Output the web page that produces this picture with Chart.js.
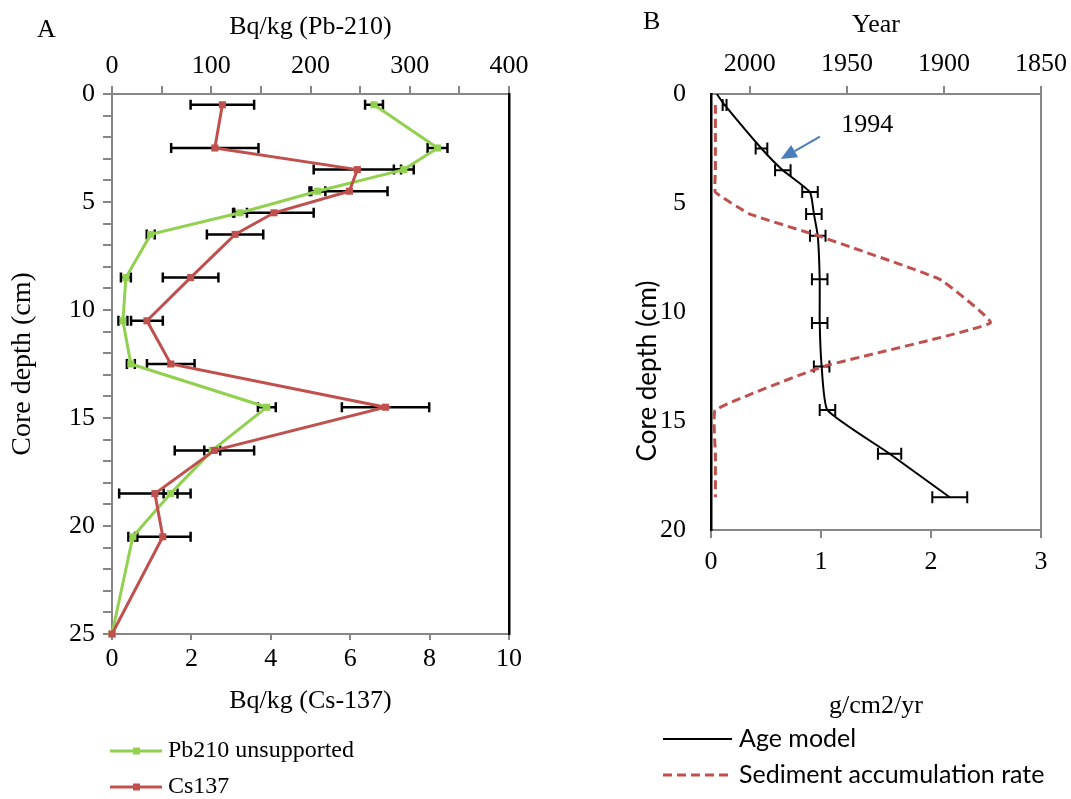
<!DOCTYPE html>
<html>
<head>
<meta charset="utf-8">
<title>Core dating profiles</title>
<script src="https://cdn.jsdelivr.net/npm/chart.js@4"></script>
<style>
  body { margin: 0; background: #fff; }
  #wrap { position: relative; width: 1071px; height: 799px; font-family: 'Liberation Serif', serif; }
  canvas { position: absolute; top: 0; }
  #chartA { left: 0; }
  #chartB { left: 560px; }
  .panel { position: absolute; font-size: 26px; line-height: 1; color: #000; }
</style>
</head>
<body>
<div id="wrap">
  <canvas id="chartA" width="560" height="799"></canvas>
  <canvas id="chartB" width="511" height="799"></canvas>
  <div class="panel" style="left:37px;top:16px">A</div>
  <div class="panel" style="left:643px;top:8px">B</div>
</div>
<script>
// sample depths (cm) for the activity profiles
const depthA = [0.5, 2.5, 3.5, 4.5, 5.5, 6.5, 8.5, 10.5, 12.5, 14.5, 16.5, 18.5, 20.5, 25];
// unsupported Pb-210 (Bq/kg) and its error
const pb210 = [264, 328, 294, 207, 129, 39, 14, 11, 19, 156, 101, 59, 21, 0];
const pb210Err = [9, 10, 10, 8, 7, 4, 5, 4.5, 4, 9, 8, 7, 4.5, 0];
// Cs-137 (Bq/kg) and its error
const cs137 = [2.78, 2.59, 6.18, 5.98, 4.08, 3.1, 1.98, 0.88, 1.48, 6.89, 2.58, 1.08, 1.28, 0];
const cs137Err = [0.8, 1.1, 1.1, 0.96, 1.0, 0.71, 0.7, 0.4, 0.6, 1.1, 1.0, 0.9, 0.7, 0];

// age model (year AD) with its error, by depth
const depthAge = [0, 0.5, 2.5, 3.5, 4.5, 5.5, 6.5, 8.5, 10.5, 12.5, 14.5, 16.5, 18.5];
const ageYear = [2017, 2013, 1994, 1983, 1969, 1967, 1965, 1964, 1964, 1963, 1960, 1928, 1897];
const ageErr = [0, 1, 3, 4, 4, 4, 4, 4, 4, 4, 4, 6, 9];
// sediment accumulation rate (g/cm2/yr)
const depthRate = [0.5, 2.5, 3.5, 4.5, 5.5, 6.5, 8.5, 10.5, 12.5, 14.5, 16.5, 18.5];
const accRate = [0.04, 0.04, 0.04, 0.04, 0.35, 0.97, 2.08, 2.54, 1.02, 0.04, 0.04, 0.04];

// tick values
const depthTicksA = Array.from({ length: 26 }, (_, i) => i);
const pbTicks = [0, 50, 100, 150, 200, 250, 300, 350, 400];
const csTicks = [0, 2, 4, 6, 8, 10];
const depthTicksB = [0, 5, 10, 15, 20];
const yearTicks = [1850, 1900, 1950, 2000];
const rateTicks = [0, 1, 2, 3];

Chart.defaults.font.family = "'Liberation Serif', serif";
Chart.defaults.font.size = 26;
Chart.defaults.color = '#000';

const axisGrey = '#868686';
const serif = size => ({ family: "'Liberation Serif', serif", size });

const pts = (xs, ys) => xs.map((v, i) => ({ x: v, y: ys[i] }));
const ticksFrom = list => scale => { scale.ticks = list.map(v => ({ value: v })); };
const fixSize = size => scale => {
  if (scale.isHorizontal()) scale.height = size; else scale.width = size;
};

// horizontal error bars, drawn under the series
const errorBars = {
  id: 'errorBars',
  beforeDatasetsDraw(chart, args, opts) {
    const ctx = chart.ctx;
    chart.data.datasets.forEach(ds => {
      if (!ds.errors) return;
      const xs = chart.scales[ds.xAxisID];
      const ys = chart.scales[ds.yAxisID];
      ctx.save();
      ctx.strokeStyle = '#000';
      ctx.lineWidth = opts.width;
      ds.data.forEach((p, j) => {
        const e = ds.errors[j];
        if (!e) return;
        const y = ys.getPixelForValue(p.y);
        const x0 = xs.getPixelForValue(p.x - e);
        const x1 = xs.getPixelForValue(p.x + e);
        ctx.beginPath();
        ctx.moveTo(x0, y); ctx.lineTo(x1, y);
        ctx.moveTo(x0, y - opts.cap); ctx.lineTo(x0, y + opts.cap);
        ctx.moveTo(x1, y - opts.cap); ctx.lineTo(x1, y + opts.cap);
        ctx.stroke();
      });
      ctx.restore();
    });
  }
};

// legend under panel A: line with a square marker
const legendA = {
  id: 'legendA',
  afterDraw(chart) {
    const ctx = chart.ctx;
    chart.data.datasets.forEach((ds, i) => {
      const y = 751 + i * 36;
      ctx.save();
      ctx.strokeStyle = ds.borderColor;
      ctx.lineWidth = 3;
      ctx.beginPath(); ctx.moveTo(110, y); ctx.lineTo(162, y); ctx.stroke();
      ctx.fillStyle = ds.borderColor;
      ctx.fillRect(133, y - 3.5, 7, 7);
      ctx.fillStyle = '#000';
      ctx.font = '24px "Liberation Serif"';
      ctx.textBaseline = 'middle';
      ctx.fillText(ds.label, 168, y);
      ctx.restore();
    });
  }
};

// panel B extras: depth title, 1994 marker and legend
const notesB = {
  id: 'notesB',
  afterDraw(chart) {
    const ctx = chart.ctx;
    const xr = chart.scales.xRate, y = chart.scales.y;
    ctx.save();

    ctx.fillStyle = '#000';
    ctx.font = '26px Lato';
    ctx.textAlign = 'center';
    ctx.textBaseline = 'middle';
    ctx.translate(88, 371);
    ctx.rotate(-Math.PI / 2);
    ctx.fillText('Core depth (cm)', 0, 0);
    ctx.setTransform(1, 0, 0, 1, 0, 0);

    ctx.font = '26px "Liberation Serif"';
    ctx.fillText('1994', xr.getPixelForValue(1.42), y.getPixelForValue(1.41));

    const tx = xr.getPixelForValue(0.99), ty = y.getPixelForValue(1.96);
    const hx = xr.getPixelForValue(0.634), hy = y.getPixelForValue(2.98);
    const ang = Math.atan2(hy - ty, hx - tx);
    const len = 16, half = 7;
    const bx = hx - len * Math.cos(ang), by = hy - len * Math.sin(ang);
    ctx.strokeStyle = '#4A7EBB';
    ctx.fillStyle = '#4A7EBB';
    ctx.lineWidth = 2;
    ctx.beginPath(); ctx.moveTo(tx, ty); ctx.lineTo(bx, by); ctx.stroke();
    ctx.beginPath();
    ctx.moveTo(hx, hy);
    ctx.lineTo(bx + half * Math.sin(ang), by - half * Math.cos(ang));
    ctx.lineTo(bx - half * Math.sin(ang), by + half * Math.cos(ang));
    ctx.closePath();
    ctx.fill();

    ctx.textAlign = 'left';
    chart.data.datasets.forEach((ds, i) => {
      const ly = 739 + i * 36;
      ctx.strokeStyle = ds.borderColor;
      ctx.lineWidth = ds.borderWidth;
      ctx.setLineDash(ds.borderDash || []);
      ctx.beginPath(); ctx.moveTo(103, ly); ctx.lineTo(172, ly); ctx.stroke();
      ctx.setLineDash([]);
      ctx.fillStyle = '#000';
      ctx.font = '25px Lato';
      ctx.fillText(ds.label, 179, ly);
    });
    ctx.restore();
  }
};

const baseOptions = {
  responsive: false,
  animation: false,
  devicePixelRatio: 1,
  layout: { padding: 0 },
  plugins: { legend: { display: false }, tooltip: { enabled: false } }
};

new Chart(document.getElementById('chartA'), {
  type: 'line',
  data: {
    datasets: [
      {
        label: 'Pb210 unsupported', data: pts(pb210, depthA), errors: pb210Err,
        xAxisID: 'xPb', yAxisID: 'y', order: 1, clip: false,
        borderColor: '#92D050', backgroundColor: '#92D050', borderWidth: 3,
        pointStyle: 'rect', pointRadius: 5, pointBorderWidth: 0
      },
      {
        label: 'Cs137', data: pts(cs137, depthA), errors: cs137Err,
        xAxisID: 'xCs', yAxisID: 'y', order: 0, clip: false,
        borderColor: '#C0504D', backgroundColor: '#C0504D', borderWidth: 3,
        pointStyle: 'rect', pointRadius: 5, pointBorderWidth: 0
      }
    ]
  },
  options: {
    ...baseOptions,
    plugins: { ...baseOptions.plugins, errorBars: { cap: 5, width: 2.5 } },
    scales: {
      xPb: {
        type: 'linear', position: 'top', min: 0, max: 400,
        afterBuildTicks: ticksFrom(pbTicks), afterFit: fixSize(94),
        ticks: { autoSkip: false, maxRotation: 0, padding: 4, font: serif(26),
                 callback: v => (v % 100 === 0 ? String(v) : '') },
        grid: { drawOnChartArea: false, color: axisGrey, lineWidth: 2, tickLength: 8 },
        border: { color: axisGrey, width: 2 },
        title: { display: true, text: 'Bq/kg (Pb-210)', font: serif(26), padding: { top: 12, bottom: 0 } }
      },
      xCs: {
        type: 'linear', position: 'bottom', min: 0, max: 10,
        afterBuildTicks: ticksFrom(csTicks), afterFit: fixSize(165),
        ticks: { autoSkip: false, maxRotation: 0, padding: 4, font: serif(26), callback: v => String(v) },
        grid: { drawOnChartArea: false, color: axisGrey, lineWidth: 2, tickLength: 6 },
        border: { color: axisGrey, width: 2 },
        title: { display: true, text: 'Bq/kg (Cs-137)', font: serif(26), padding: { top: 0, bottom: 82 } }
      },
      y: {
        type: 'linear', position: 'left', min: 0, max: 25, reverse: true,
        afterBuildTicks: ticksFrom(depthTicksA), afterFit: fixSize(112),
        ticks: { autoSkip: false, padding: 8, font: serif(26),
                 callback: v => (v % 5 === 0 ? String(v) : '') },
        grid: { drawOnChartArea: false, color: axisGrey, lineWidth: 2, tickLength: 9 },
        border: { color: axisGrey, width: 2 },
        title: { display: true, text: 'Core depth (cm)', font: serif(28), padding: { top: 6, bottom: 0 } }
      },
      yRight: {
        type: 'linear', position: 'right', min: 0, max: 25,
        afterFit: fixSize(51),
        ticks: { display: false },
        grid: { drawOnChartArea: false, drawTicks: false },
        border: { color: '#000', width: 2.5 }
      }
    }
  },
  plugins: [errorBars, legendA]
});

new Chart(document.getElementById('chartB'), {
  type: 'line',
  data: {
    datasets: [
      {
        label: 'Age model', data: pts(ageYear, depthAge), errors: ageErr,
        xAxisID: 'xYear', yAxisID: 'y', indexAxis: 'y', order: 1,
        tension: 0.15,
        borderColor: '#000', borderWidth: 2, pointRadius: 0
      },
      {
        label: 'Sediment accumulation rate', data: pts(accRate, depthRate),
        xAxisID: 'xRate', yAxisID: 'y', indexAxis: 'y', order: 0,
        tension: 0.1,
        borderColor: '#C0504D', borderWidth: 3, borderDash: [9, 5], pointRadius: 0
      }
    ]
  },
  options: {
    ...baseOptions,
    plugins: { ...baseOptions.plugins, errorBars: { cap: 6, width: 2 } },
    scales: {
      xYear: {
        type: 'linear', position: 'top', min: 1850, max: 2020, reverse: true,
        afterBuildTicks: ticksFrom(yearTicks), afterFit: fixSize(94),
        ticks: { autoSkip: false, maxRotation: 0, padding: 6, font: serif(26), callback: v => String(v) },
        grid: { drawOnChartArea: false, color: axisGrey, lineWidth: 2, tickLength: 8 },
        border: { color: axisGrey, width: 2 },
        title: { display: true, text: 'Year', font: serif(26), padding: { top: 10, bottom: 0 } }
      },
      xRate: {
        type: 'linear', position: 'bottom', min: 0, max: 3,
        afterBuildTicks: ticksFrom(rateTicks), afterFit: fixSize(269),
        ticks: { autoSkip: false, maxRotation: 0, padding: 9, font: serif(26), callback: v => String(v) },
        grid: { drawOnChartArea: false, color: axisGrey, lineWidth: 2, tickLength: 8 },
        border: { color: axisGrey, width: 2 },
        title: { display: true, text: 'g/cm2/yr', font: serif(26), padding: { top: 0, bottom: 77 } }
      },
      y: {
        type: 'linear', position: 'left', min: 0, max: 20, reverse: true,
        afterBuildTicks: ticksFrom(depthTicksB), afterFit: fixSize(151),
        ticks: { autoSkip: false, padding: 25, font: serif(26), callback: v => String(v) },
        grid: { drawOnChartArea: false, drawTicks: false },
        border: { color: '#000', width: 2.5 }
      },
      yRight: {
        type: 'linear', position: 'right', min: 0, max: 20,
        afterFit: fixSize(30),
        ticks: { display: false },
        grid: { drawOnChartArea: false, drawTicks: false },
        border: { color: axisGrey, width: 2 }
      }
    }
  },
  plugins: [errorBars, notesB]
});
</script>
</body>
</html>
